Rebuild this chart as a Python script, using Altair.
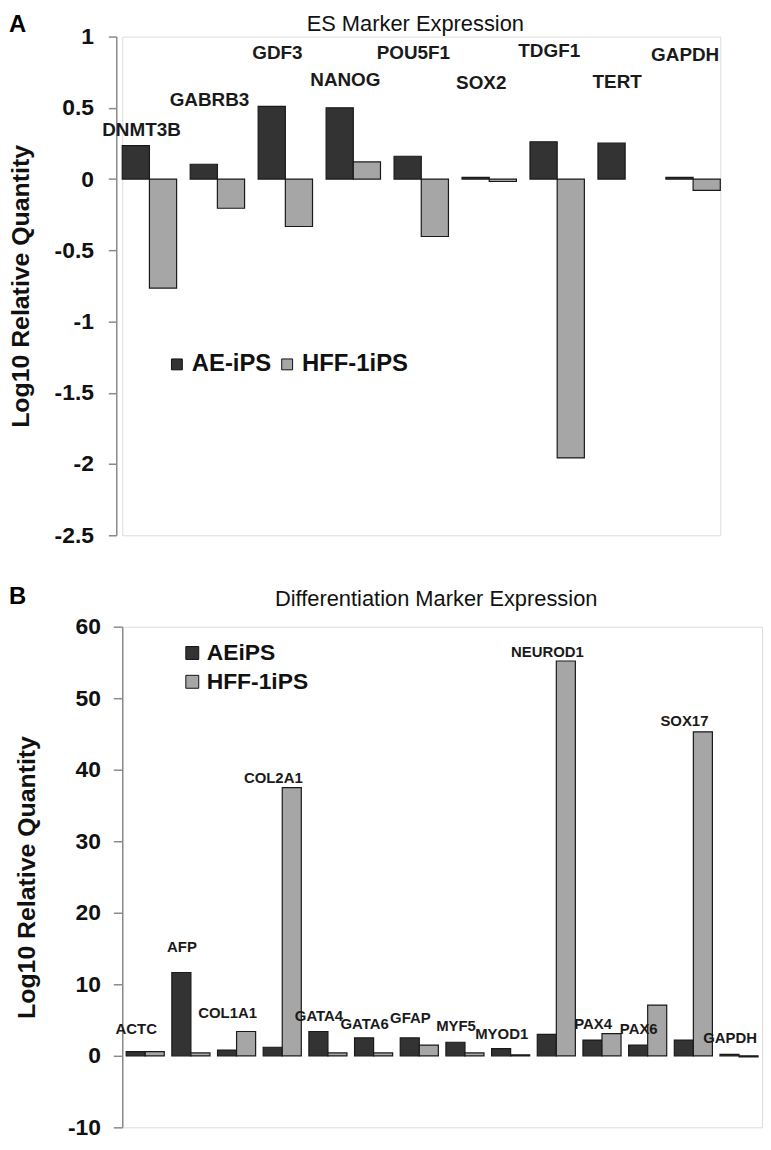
import altair as alt
import pandas as pd

FONT = "Liberation Sans"

# ---------------- Panel A data ----------------
genes_a = ["DNMT3B", "GABRB3", "GDF3", "NANOG", "POU5F1", "SOX2", "TDGF1", "TERT", "GAPDH"]
ae_a = [0.234, 0.104, 0.51, 0.50, 0.16, 0.012, 0.262, 0.252, 0.012]
hff_a = [-0.765, -0.205, -0.333, 0.12, -0.403, -0.017, -1.957, None, -0.08]
label_y_a = [0.347, 0.556, 0.882, 0.694, 0.882, 0.674, 0.896, 0.681, 0.868]
series_a = ["AE-iPS", "HFF-1iPS"]
ticks_a = [1, 0.5, 0, -0.5, -1, -1.5, -2, -2.5]

# ---------------- Panel B data ----------------
genes_b = ["ACTC", "AFP", "COL1A1", "COL2A1", "GATA4", "GATA6", "GFAP", "MYF5",
           "MYOD1", "NEUROD1", "PAX4", "PAX6", "SOX17", "GAPDH"]
ae_b = [0.6, 11.65, 0.8, 1.2, 3.4, 2.5, 2.5, 1.9, 1.0, 3.0, 2.2, 1.5, 2.2, 0.2]
hff_b = [0.6, 0.4, 3.4, 37.5, 0.4, 0.4, 1.5, 0.4, 0.15, 55.2, 3.1, 7.1, 45.3, -0.15]
label_y_b = [3.8, 15.2, 6.0, 38.9, 5.5, 4.5, 5.3, 4.1, 3.1, 56.4, 4.5, 3.8, 46.8, 2.5]
series_b = ["AEiPS", "HFF-1iPS"]
ticks_b = [60, 50, 40, 30, 20, 10, 0, -10]

DARK = "#333333"
LIGHT = "#a6a6a6"
INK = "#111111"
AXIS_GREY = "#8a8a8a"

LABEL_EXPR = "datum.value < 0 ? '-' + format(-datum.value, '~g') : format(datum.value, '~g')"


def long_df(genes, ae, hff, series):
    rows = []
    for g, a, h in zip(genes, ae, hff):
        rows.append({"gene": g, "series": series[0], "value": a})
        rows.append({"gene": g, "series": series[1], "value": h})
    return pd.DataFrame(rows)


def make_panel(genes, ae, hff, label_y, series, ticks, domain, W, H,
               p_inner, p_outer, axis_offset, tick_size, label_pad,
               title, title_y, letter, letter_y, legend, label_size, label_dx):
    bars_df = long_df(genes, ae, hff, series)
    lab_df = pd.DataFrame({"gene": genes, "value": label_y})

    xenc = alt.X("gene:N", sort=genes,
                 scale=alt.Scale(domain=genes, paddingInner=p_inner, paddingOuter=p_outer),
                 axis=None)
    yscale = alt.Scale(domain=domain, nice=False, zero=False)

    bars = alt.Chart(bars_df).mark_bar(stroke="#1a1a1a", strokeWidth=1.2).encode(
        x=xenc,
        xOffset=alt.XOffset("series:N", sort=series,
                            scale=alt.Scale(domain=series, paddingInner=0, paddingOuter=0)),
        y=alt.Y("value:Q", scale=yscale, stack=None,
                axis=alt.Axis(values=ticks, labelExpr=LABEL_EXPR, grid=False,
                              title="Log10 Relative Quantity",
                              titleX=-96, titleY=H / 2, titleAngle=270,
                              titleBaseline="middle", titleAlign="center",
                              titleFont=FONT, titleFontSize=25, titleFontWeight="bold",
                              titleColor=INK,
                              labelFont=FONT, labelFontSize=23, labelFontWeight="bold",
                              labelColor=INK, labelPadding=label_pad,
                              labelFlush=False, labelOverlap=False,
                              tickSize=tick_size, tickColor=AXIS_GREY, tickWidth=1.5,
                              domainColor=AXIS_GREY, domainWidth=1.5,
                              offset=axis_offset)),
        color=alt.Color("series:N", sort=series,
                        scale=alt.Scale(domain=series, range=[DARK, LIGHT]),
                        legend=legend),
    )

    labels = alt.Chart(lab_df).mark_text(
        font=FONT, fontSize=label_size, fontWeight="bold", color="#1a1a1a",
        align="center", baseline="middle", dx=label_dx,
    ).encode(
        x=xenc,
        y=alt.Y("value:Q", scale=yscale),
        text="gene:N",
    )

    ttl = alt.Chart(pd.DataFrame({"t": [title]})).mark_text(
        font=FONT, fontSize=22, color=INK, align="center", baseline="top"
    ).encode(x=alt.value(W / 2 - 6), y=alt.value(title_y), text="t:N")

    let = alt.Chart(pd.DataFrame({"t": [letter]})).mark_text(
        font=FONT, fontSize=24, fontWeight="bold", color="#000000",
        align="left", baseline="top"
    ).encode(x=alt.value(-114), y=alt.value(letter_y), text="t:N")

    return alt.layer(bars, labels, ttl, let).properties(width=W, height=H)


legend_a = alt.Legend(orient="none", legendX=43, legendY=318, direction="horizontal",
                      title=None, symbolType="square", symbolSize=120,
                      symbolStrokeColor="#111111", symbolStrokeWidth=1,
                      labelFont=FONT, labelFontSize=24, labelFontWeight="bold",
                      labelColor=INK, labelOffset=3, columnPadding=3, gridAlign="none",
                      padding=0)

legend_b = alt.Legend(orient="none", legendX=59, legendY=15, direction="vertical",
                      title=None, symbolType="square", symbolSize=169,
                      symbolStrokeColor="#111111", symbolStrokeWidth=1,
                      labelFont=FONT, labelFontSize=23, labelFontWeight="bold",
                      labelColor=INK, labelOffset=3, rowPadding=5, padding=0)

panel_a = make_panel(genes_a, ae_a, hff_a, label_y_a, series_a, ticks_a, [-2.5, 1],
                     602, 502, 0.2, 0.0, 6, 8, 15,
                     "ES Marker Expression", -23, "A", -24, legend_a, 19, -8)

panel_b = make_panel(genes_b, ae_b, hff_b, label_y_b, series_b, ticks_b, [-10, 60],
                     644, 504, 0.166, 0.086, 0, 9, 13,
                     "Differentiation Marker Expression", -38, "B", -42, legend_b, 15, -9)

chart = alt.vconcat(panel_a, panel_b, spacing=36).resolve_scale(
    x="independent", y="independent", color="independent", xOffset="independent"
).resolve_legend(color="independent").properties(
    padding=0
).configure_view(stroke=None).configure(font=FONT)

chart.save("out.html", embed_options={"renderer": "svg", "actions": False})
